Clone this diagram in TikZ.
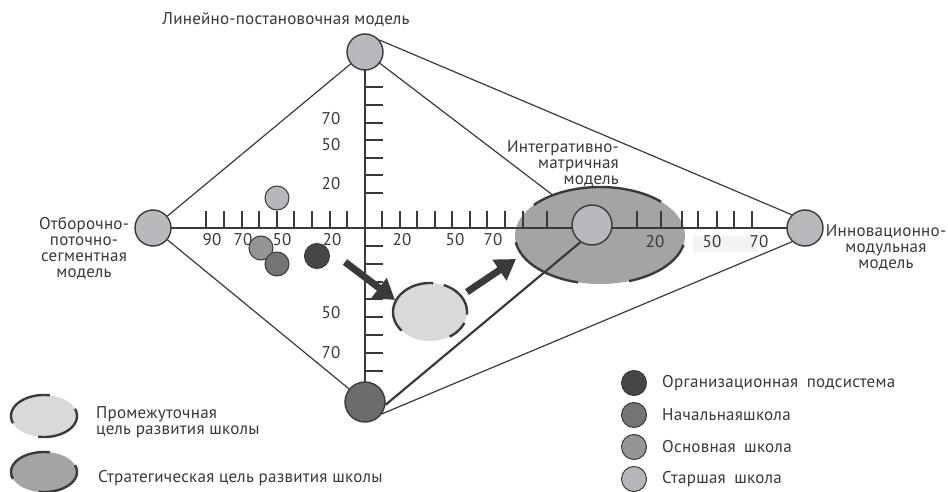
\documentclass[tikz,border=0pt]{standalone}
\usepackage{fontspec}
\setmainfont{PT Sans}[LetterSpace=1.5]
\usetikzlibrary{shapes.geometric,arrows.meta}
\definecolor{ln}{HTML}{3A3A3C}
\definecolor{txt}{HTML}{38383A}
\definecolor{nodeg}{HTML}{B8B9BD}
\definecolor{botg}{HTML}{6C6C6F}
\definecolor{bigell}{HTML}{A4A4A7}
\definecolor{smallell}{HTML}{D8D9DB}
\definecolor{orgc}{HTML}{464648}
\definecolor{nachc}{HTML}{747477}
\definecolor{osnc}{HTML}{959598}
\definecolor{starc}{HTML}{B6B7BB}
\definecolor{arrc}{HTML}{3A3A3C}
\definecolor{pale}{HTML}{F2F2F2}
\newcommand\myarc[6]{\draw[arcst] plot[variable=\t,domain=#5:#6,samples=40,smooth] ({#1+#3*cos(\t)},{#2-#4*sin(\t)});}
\begin{document}
\begin{tikzpicture}[x=1pt,y=-1pt,
  vnode/.style={circle,draw=ln,line width=1.4pt,fill=nodeg,minimum size=36pt,inner sep=0pt},
  dotn/.style={circle,draw=ln,line width=1pt,minimum size=24pt,inner sep=0pt},
  lbl/.style={font=\fontsize{17}{16}\selectfont,text=txt,inner sep=0pt},
  num/.style={font=\fontsize{17}{16}\selectfont,text=txt,inner sep=0pt},
  tickst/.style={line width=1.3pt,draw=ln},
  edgest/.style={line width=1.2pt,draw=ln},
  thickst/.style={line width=2.2pt,draw=ln},
  arcst/.style={line width=2.4pt,draw=ln},
  bigarrow/.style={line width=7pt,draw=arrc,-{Triangle[length=20pt,width=24pt]}}]
\useasboundingbox (0,0) rectangle (948,492);

% pale box behind right labels
\fill[pale] (693,236) rectangle (758,252);

% vertices
\coordinate (topc) at (365,52);
\coordinate (leftc) at (153,228);
\coordinate (rightc) at (805,228);
\coordinate (botc) at (365,402);
\coordinate (integc) at (592,225);

% line to integrative model (hidden by ellipse)
\draw[edgest] (topc) -- (integc);

% strategic goal ellipse
\node[ellipse,fill=bigell,minimum width=170pt,minimum height=97pt,inner sep=0pt] (strat) at (600,235.5) {};
\myarc{600}{235.5}{85}{48.5}{44}{141}
\myarc{600}{235.5}{85}{48.5}{188}{255}
\myarc{600}{235.5}{85}{48.5}{290}{349}

% intermediate goal ellipse
\node[ellipse,fill=smallell,minimum width=74pt,minimum height=58pt,inner sep=0pt] (interm) at (430,312) {};
\myarc{430}{312}{37}{29}{85}{220}
\myarc{430}{312}{37}{29}{-5}{68}
\myarc{430}{312}{37}{29}{-58}{-22}

% axes
\draw[edgest,line width=1.3pt] (leftc) -- (rightc);
\draw[edgest,line width=1.3pt] (topc) -- (botc);
\foreach \x in {206,224,242,259,277,294,312,330,347,382,400,417,435,452,470,487,505,523,547,637,661,682,698,717,734,752}
  \draw[tickst] (\x,211) -- (\x,228);
\foreach \y in {87,105,123,140,158,175,193,246,264,282,299,317,335,353,371}
  \draw[tickst] (365,\y) -- (383,\y);

% axis numbers
\node[num] (h90) at (212,240) {90};
\node[num] (h70) at (243,240) {70};
\node[num] (h50) at (282,240) {50};
\node[num] (h20) at (332,240) {20};
\node[num] (r20) at (402,240) {20};
\node[num] (r50) at (455,240) {50};
\node[num] (r70) at (493,240) {70};
\node[num] (s20) at (655,242) {20};
\node[num] (s50) at (712,242) {50};
\node[num] (s70) at (759,242) {70};
\node[num] (v70) at (331,119) {70};
\node[num] (v50) at (331,145) {50};
\node[num] (v20) at (331,184) {20};
\node[num] (w50) at (331,313) {50};
\node[num] (w70) at (331,353) {70};

% model nodes
\node[vnode] (top) at (topc) {};
\node[vnode] (left) at (leftc) {};
\node[vnode] (right) at (rightc) {};
\node[vnode,fill=botg,minimum size=40pt] (bot) at (botc) {};
\node[vnode,minimum size=40pt] (integ) at (integc) {};

% frame edges
\draw[edgest] (top) -- (left);
\draw[edgest] (left) -- (bot);
\draw[edgest] (top.40) -- (right.135);
\draw[edgest] (bot.-35) -- (right.227);
\draw[thickst] (bot.-8) -- (integ.236);

% model labels
\node[lbl] (ltop) at (286,20) {Линейно-постановочная модель};
\node[lbl,align=center] (lleft) at (84,248) {Отборочно-\\поточно-\\сегментная\\модель};
\node[lbl,align=right,anchor=east] (lint) at (619,164) {Интегративно-\\матричная\\модель};
\node[lbl,align=center] (lright) at (886,248) {Инновационно-\\модульная\\модель};

% subsystem dots
\node[dotn,fill=starc] (d1) at (277,198) {};
\node[dotn,fill=osnc] (d2) at (261,248) {};
\node[dotn,fill=nachc] (d3) at (277,264) {};
\node[dotn,fill=orgc,minimum size=25pt] (d4) at (317,256) {};

% arrows
\coordinate (a1s) at (345,262);
\coordinate (a1e) at (395,300);
\coordinate (a2s) at (467,292);
\coordinate (a2e) at (516,259);
\draw[bigarrow] (a1s) -- (a1e);
\draw[bigarrow] (a2s) -- (a2e);

% legend: goals
\node[ellipse,fill=smallell,minimum width=66pt,minimum height=42pt,inner sep=0pt] (lg1) at (44,416) {};
\myarc{44}{416}{33}{21}{80}{200}
\myarc{44}{416}{33}{21}{-100}{20}
\node[ellipse,fill=bigell,minimum width=66pt,minimum height=40pt,inner sep=0pt] (lg2) at (44,472) {};
\myarc{44}{472}{33}{20}{80}{200}
\myarc{44}{472}{33}{20}{-100}{20}
\node[lbl,align=left,anchor=west] (lt1) at (96,422) {Промежуточная\\цель развития школы};
\node[lbl,anchor=west] (lt2) at (98,478) {Стратегическая цель развития школы};

% legend: subsystems
\node[dotn,fill=orgc,minimum size=25pt] (k1) at (634,383) {};
\node[dotn,fill=nachc,minimum size=25pt] (k2) at (634,415) {};
\node[dotn,fill=osnc,minimum size=25pt] (k3) at (634,447) {};
\node[dotn,fill=starc,minimum size=25pt] (k4) at (634,479) {};
\node[lbl,anchor=west] (kt1) at (662,383) {Организационная\hspace{0.5em}подсистема};
\node[lbl,anchor=west] (kt2) at (662,415) {Начальнаяшкола};
\node[lbl,anchor=west] (kt3) at (662,447) {Основная\hspace{0.5em}школа};
\node[lbl,anchor=west] (kt4) at (662,479) {Старшая\hspace{0.5em}школа};
\end{tikzpicture}
\end{document}
